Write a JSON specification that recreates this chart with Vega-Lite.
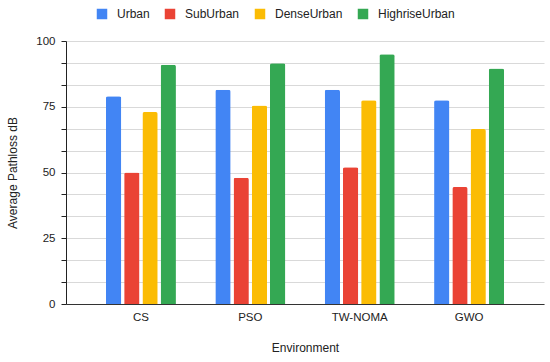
{
  "$schema": "https://vega.github.io/schema/vega-lite/v6.json",
  "width": 478,
  "height": 263,
  "autosize": {"type": "none"},
  "padding": {"left": 66, "top": 41, "right": 6, "bottom": 58},
  "background": "white",
  "config": {
    "font": "Liberation Sans",
    "view": {"stroke": null}
  },
  "data": {
    "values": [
      {"env": "CS", "type": "Urban", "v": 79},
      {"env": "CS", "type": "SubUrban", "v": 50},
      {"env": "CS", "type": "DenseUrban", "v": 73},
      {"env": "CS", "type": "HighriseUrban", "v": 91},
      {"env": "PSO", "type": "Urban", "v": 81.5},
      {"env": "PSO", "type": "SubUrban", "v": 48},
      {"env": "PSO", "type": "DenseUrban", "v": 75.5},
      {"env": "PSO", "type": "HighriseUrban", "v": 91.5},
      {"env": "TW-NOMA", "type": "Urban", "v": 81.5},
      {"env": "TW-NOMA", "type": "SubUrban", "v": 52},
      {"env": "TW-NOMA", "type": "DenseUrban", "v": 77.5},
      {"env": "TW-NOMA", "type": "HighriseUrban", "v": 95},
      {"env": "GWO", "type": "Urban", "v": 77.5},
      {"env": "GWO", "type": "SubUrban", "v": 44.5},
      {"env": "GWO", "type": "DenseUrban", "v": 66.5},
      {"env": "GWO", "type": "HighriseUrban", "v": 89.5}
    ]
  },
  "mark": {"type": "bar", "cornerRadiusTopLeft": 2, "cornerRadiusTopRight": 2},
  "encoding": {
    "x": {
      "field": "env", "type": "nominal", "sort": ["CS", "PSO", "TW-NOMA", "GWO"],
      "scale": {"paddingInner": 0.36, "paddingOuter": 0.365},
      "axis": {
        "title": "Environment", "labelAngle": 0, "labelFontSize": 11.5, "labelColor": "#222",
        "titleFontSize": 12, "titleFontWeight": "normal", "titleColor": "#222",
        "labelPadding": 7, "titlePadding": 20, "ticks": false,
        "domainColor": "#333", "domainWidth": 1.2
      }
    },
    "xOffset": {
      "field": "type", "type": "nominal",
      "sort": ["Urban", "SubUrban", "DenseUrban", "HighriseUrban"],
      "scale": {"paddingInner": 0.16}
    },
    "y": {
      "field": "v", "type": "quantitative",
      "scale": {"domain": [0, 100], "nice": false},
      "axis": {
        "title": "Average Pathloss dB",
        "values": [0, 8.3333, 16.6667, 25, 33.3333, 41.6667, 50, 58.3333, 66.6667, 75, 83.3333, 91.6667, 100],
        "labelExpr": "datum.value % 25 == 0 ? datum.label : ''",
        "labelFontSize": 11.5, "labelColor": "#222",
        "titleFontSize": 12, "titleFontWeight": "normal", "titleColor": "#222",
        "titlePadding": 16,
        "gridColor": "#d9d9d9", "domainColor": "#222", "tickColor": "#222",
        "tickSize": 5, "labelPadding": 6
      }
    },
    "color": {
      "field": "type", "type": "nominal",
      "sort": ["Urban", "SubUrban", "DenseUrban", "HighriseUrban"],
      "scale": {"domain": ["Urban", "SubUrban", "DenseUrban", "HighriseUrban"], "range": ["#4285F4", "#EA4335", "#FBBC04", "#34A853"]},
      "legend": {
        "title": null, "orient": "none", "direction": "horizontal",
        "legendX": 30, "legendY": -33,
        "symbolType": "square", "symbolSize": 110, "symbolStrokeWidth": 0,
        "labelFontSize": 12, "labelColor": "#222", "columnPadding": 14, "labelOffset": 9
      }
    }
  }
}
